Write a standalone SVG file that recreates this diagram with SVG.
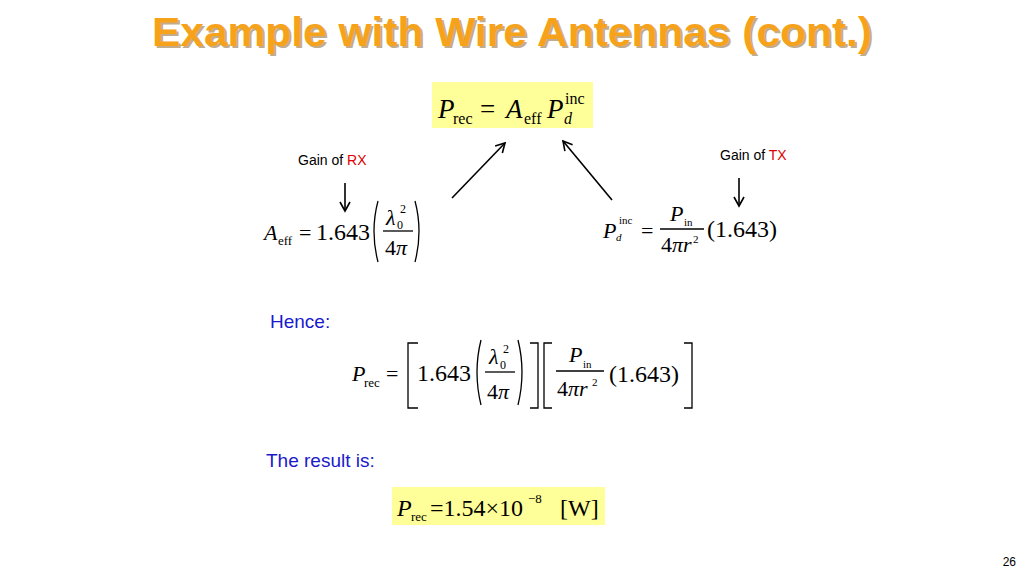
<svg xmlns="http://www.w3.org/2000/svg" width="1024" height="576" viewBox="0 0 1024 576">
<style>
.m{font-family:"Liberation Serif",serif;fill:#000}
.i{font-style:italic}
.s{font-family:"Liberation Sans",Arial,sans-serif}
.ln{stroke:#000;stroke-width:1.6;fill:none}
.br{stroke:#000;stroke-width:1.3;fill:none}
</style>
<defs>
<marker id="ah" markerWidth="12" markerHeight="12" refX="10" refY="6" orient="auto" markerUnits="userSpaceOnUse"><path d="M1,1 L10,6 L1,11" fill="none" stroke="#000" stroke-width="1.6"/></marker>
</defs>
<rect width="1024" height="576" fill="#fff"/>
<text x="514" y="48" text-anchor="middle" class="s" font-size="41" font-weight="bold" fill="#7a4a00" opacity="0.45" textLength="720" lengthAdjust="spacingAndGlyphs">Example with Wire Antennas (cont.)</text>
<text x="512" y="46" text-anchor="middle" class="s" font-size="41" font-weight="bold" fill="#f7a21b" textLength="720" lengthAdjust="spacingAndGlyphs">Example with Wire Antennas (cont.)</text>

<g id="top-eq">
<rect x="432" y="82" width="161" height="46" fill="#ffff99"/>
<text class="m" font-size="27" y="118"><tspan x="438" class="i">P</tspan><tspan x="453" y="124" font-size="16">rec</tspan><tspan x="480" y="118">=</tspan><tspan x="506" class="i">A</tspan><tspan x="524" y="124" font-size="16">eff</tspan><tspan x="547" y="118" class="i">P</tspan><tspan x="565" y="104" font-size="16">inc</tspan><tspan x="564" y="124" font-size="16" class="i">d</tspan></text>
</g>

<g id="labels">
<text x="298" y="165" class="s" font-size="14">Gain of <tspan fill="#e00000">RX</tspan></text>
<text x="720" y="160" class="s" font-size="14">Gain of <tspan fill="#e00000">TX</tspan></text>
<text x="270" y="328" class="s" font-size="19" fill="#1a1acc">Hence:</text>
<text x="266" y="467" class="s" font-size="19" fill="#1a1acc">The result is:</text>
<text x="1016" y="566" text-anchor="end" class="s" font-size="12">26</text>
</g>

<g id="connectors">
<line x1="345" y1="183" x2="345" y2="211" class="ln" marker-end="url(#ah)"/>
<line x1="739" y1="178" x2="739" y2="206" class="ln" marker-end="url(#ah)"/>
<line x1="452" y1="198" x2="505" y2="143" class="ln" marker-end="url(#ah)"/>
<line x1="612" y1="200" x2="563" y2="141" class="ln" marker-end="url(#ah)"/>
</g>

<g id="eq-aeff">
<text class="m" font-size="22" y="240"><tspan x="264" class="i">A</tspan><tspan x="278" y="245" font-size="13">eff</tspan><tspan x="299" y="240">=</tspan><tspan x="316" y="240" font-size="24">1.643</tspan></text>
<path d="M378,201 Q370,231 378,262" class="br"/>
<path d="M415,201 Q423,231 415,262" class="br"/>
<text class="m i" font-size="22" x="386" y="225">λ</text>
<text class="m" font-size="12" x="397" y="229">0</text>
<text class="m" font-size="12" x="400" y="213">2</text>
<line x1="383" y1="231" x2="413" y2="231" class="br"/>
<text class="m" font-size="22" x="385" y="255">4<tspan class="i">π</tspan></text>
</g>

<g id="eq-pd">
<text class="m" font-size="22" y="238"><tspan x="603" class="i">P</tspan><tspan x="619" y="224" font-size="11">inc</tspan><tspan x="616" y="241" font-size="11" class="i">d</tspan><tspan x="641" y="238">=</tspan></text>
<text class="m i" font-size="22" x="670" y="221">P</text>
<text class="m" font-size="11" x="684" y="226">in</text>
<line x1="660" y1="229" x2="704" y2="229" class="br"/>
<text class="m" font-size="22" x="661" y="252">4<tspan class="i">πr</tspan></text>
<text class="m" font-size="11" x="693" y="243">2</text>
<text class="m" font-size="24" x="707" y="237">(1.643)</text>
</g>

<g id="eq-hence">
<text class="m" font-size="22" y="381"><tspan x="352" class="i">P</tspan><tspan x="364" y="387" font-size="13">rec</tspan><tspan x="386" y="381">=</tspan><tspan x="417" y="381" font-size="24">1.643</tspan></text>
<path d="M418,343 H408 V408 H418" class="br"/>
<path d="M481,340 Q473,372 481,405" class="br"/>
<path d="M518,340 Q526,372 518,405" class="br"/>
<text class="m i" font-size="22" x="489" y="364">λ</text>
<text class="m" font-size="12" x="500" y="369">0</text>
<text class="m" font-size="12" x="503" y="353">2</text>
<line x1="485" y1="372" x2="515" y2="372" class="br"/>
<text class="m" font-size="22" x="487" y="399">4<tspan class="i">π</tspan></text>
<path d="M530,343 H538 V408 H530" class="br"/>
<path d="M552,343 H544 V408 H552" class="br"/>
<text class="m i" font-size="22" x="569" y="362">P</text>
<text class="m" font-size="11" x="583" y="368">in</text>
<line x1="556" y1="371" x2="604" y2="371" class="br"/>
<text class="m" font-size="22" x="557" y="396">4<tspan class="i">πr</tspan></text>
<text class="m" font-size="11" x="592" y="386">2</text>
<text class="m" font-size="24" x="609" y="382">(1.643)</text>
<path d="M684,343 H692 V408 H684" class="br"/>
</g>

<g id="result">
<rect x="392" y="487" width="213" height="38" fill="#ffff99"/>
<text class="m" font-size="24" y="516"><tspan x="397" class="i">P</tspan><tspan x="411" y="521" font-size="13">rec</tspan><tspan x="430" y="516">=1.54×10</tspan><tspan x="528" y="503" font-size="13">−8</tspan><tspan x="560" y="516">[W]</tspan></text>
</g>
</svg>
